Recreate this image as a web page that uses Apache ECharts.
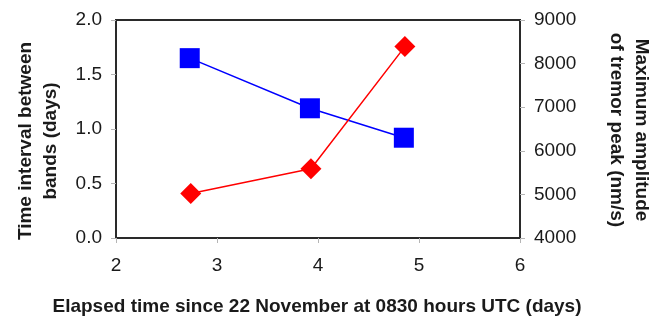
<!DOCTYPE html>
<html><head><meta charset="utf-8">
<script src="https://cdn.jsdelivr.net/npm/echarts@6/dist/echarts.min.js"></script>
<style>html,body{margin:0;padding:0;background:#fff}#c{width:662px;height:321px}</style>
</head><body><div id="c"></div>
<script>
var elapsedInterval = [2.73, 3.92, 4.85];
var intervalDays = [1.65, 1.19, 0.92];
var elapsedAmp = [2.74, 3.93, 4.86];
var amplitude = [5020, 5590, 8390];
var xTicks = [2, 3, 4, 5, 6];

var chart = echarts.init(document.getElementById('c'), null, {renderer: 'canvas'});
var font = 'Liberation Sans, Arial, sans-serif';
var axisCol = '#2a2a2a';
var tickCol = '#b5b5b5';
var lblCol = '#1a1a1a';
chart.setOption({
  animation: false,
  backgroundColor: '#fff',
  grid: {left: 116, right: 142, top: 20, bottom: 83, show: true, borderColor: axisCol, borderWidth: 2, backgroundColor: 'transparent'},
  xAxis: {
    type: 'value', min: xTicks[0], max: xTicks[xTicks.length - 1], interval: 1,
    axisLine: {show: true, onZero: false, lineStyle: {color: axisCol, width: 2}},
    axisTick: {show: true, length: 5, lineStyle: {color: tickCol, width: 1}},
    splitLine: {show: false},
    axisLabel: {fontFamily: font, fontSize: 19, color: lblCol, margin: 18}
  },
  yAxis: [{
    type: 'value', min: 0, max: 2, interval: 0.5, position: 'left',
    axisLine: {show: true, lineStyle: {color: axisCol, width: 2}},
    axisTick: {show: true, length: 5, lineStyle: {color: tickCol, width: 1}},
    splitLine: {show: false},
    axisLabel: {fontFamily: font, fontSize: 19, color: lblCol, margin: 14, formatter: function (v) { return v.toFixed(1); }}
  }, {
    type: 'value', min: 4000, max: 9000, interval: 1000, position: 'right',
    axisLine: {show: true, lineStyle: {color: axisCol, width: 2}},
    axisTick: {show: true, length: 5, lineStyle: {color: tickCol, width: 1}},
    splitLine: {show: false},
    axisLabel: {fontFamily: font, fontSize: 19, color: lblCol, margin: 14, formatter: function (v) { return String(v); }}
  }],
  series: [{
    type: 'line', yAxisIndex: 0,
    data: elapsedInterval.map(function (x, i) { return [x, intervalDays[i]]; }),
    symbol: 'rect', symbolSize: 20,
    lineStyle: {color: '#0000ff', width: 1.5},
    itemStyle: {color: '#0000ff'}
  }, {
    type: 'line', yAxisIndex: 1,
    data: elapsedAmp.map(function (x, i) { return [x, amplitude[i]]; }),
    symbol: 'diamond', symbolSize: 21,
    lineStyle: {color: '#ff0000', width: 1.5},
    itemStyle: {color: '#ff0000'}
  }],
  graphic: [{
    type: 'text', x: 38, y: 141, rotation: Math.PI / 2,
    style: {text: 'Time interval between\nbands (days)', font: 'bold 19px ' + font, fill: lblCol, align: 'center', verticalAlign: 'middle', lineHeight: 25}
  }, {
    type: 'text', x: 629, y: 130, rotation: -Math.PI / 2,
    style: {text: 'Maximum amplitude\nof tremor peak (nm/s)', font: 'bold 19px ' + font, fill: lblCol, align: 'center', verticalAlign: 'middle', lineHeight: 25}
  }, {
    type: 'text', x: 317, y: 307,
    style: {text: 'Elapsed time since 22 November at 0830 hours UTC (days)', font: 'bold 19px ' + font, fill: lblCol, align: 'center', verticalAlign: 'middle'}
  }]
});
</script></body></html>
